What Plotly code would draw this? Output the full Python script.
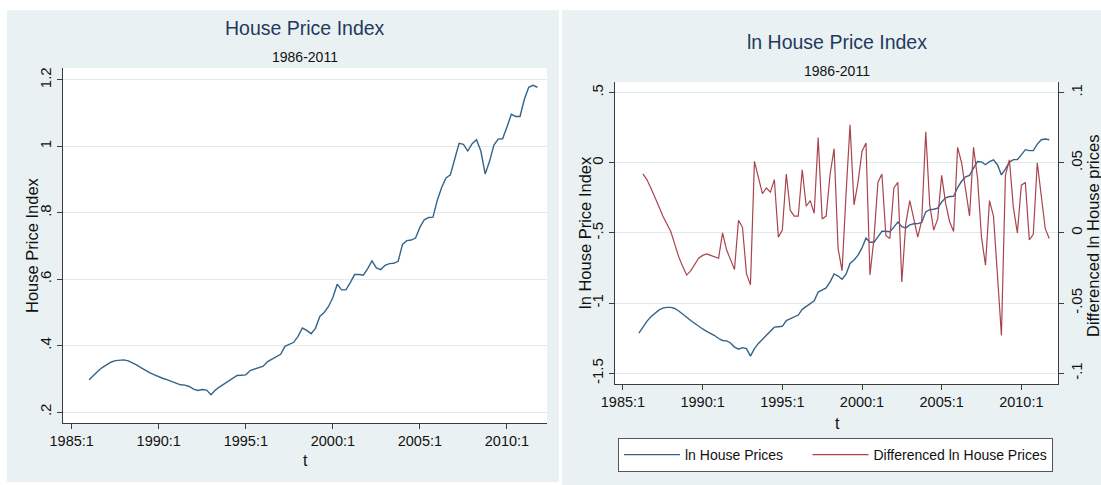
import plotly.graph_objects as go

# ---------------- data (quarterly, 1986:1 - 2011:4) ----------------
hpi = [
    0.297, 0.311, 0.323, 0.334, 0.343, 0.350, 0.355, 0.357,
    0.357, 0.354, 0.348, 0.341, 0.333, 0.325, 0.318, 0.312,
    0.306, 0.301, 0.297, 0.292, 0.286, 0.282, 0.281, 0.277,
    0.269, 0.265, 0.268, 0.266, 0.252, 0.266, 0.276, 0.284,
    0.293, 0.301, 0.310, 0.311, 0.312, 0.325, 0.330, 0.334,
    0.338, 0.352, 0.360, 0.368, 0.374, 0.398, 0.404, 0.410,
    0.428, 0.453, 0.446, 0.436, 0.452, 0.488, 0.500, 0.518,
    0.545, 0.585, 0.568, 0.568, 0.590, 0.614, 0.614, 0.612,
    0.632, 0.655, 0.634, 0.629, 0.642, 0.647, 0.648, 0.654,
    0.705, 0.716, 0.718, 0.724, 0.756, 0.779, 0.786, 0.787,
    0.838, 0.876, 0.905, 0.914, 0.962, 1.009, 1.006, 0.986,
    1.008, 1.020, 0.986, 0.917, 0.955, 1.004, 1.022, 1.023,
    1.058, 1.097, 1.090, 1.090, 1.142, 1.178, 1.184, 1.178,
]

ln_hpi = [
    -1.214, -1.168, -1.130, -1.097, -1.070, -1.050, -1.036, -1.030,
    -1.030, -1.038, -1.056, -1.076, -1.100, -1.124, -1.146, -1.165,
    -1.184, -1.201, -1.214, -1.231, -1.252, -1.266, -1.269, -1.284,
    -1.313, -1.328, -1.317, -1.324, -1.378, -1.324, -1.287, -1.259,
    -1.228, -1.201, -1.171, -1.168, -1.165, -1.124, -1.109, -1.097,
    -1.085, -1.044, -1.022, -1.000, -0.983, -0.921, -0.906, -0.892,
    -0.849, -0.792, -0.807, -0.830, -0.794, -0.717, -0.693, -0.658,
    -0.607, -0.536, -0.566, -0.566, -0.528, -0.488, -0.488, -0.491,
    -0.459, -0.423, -0.456, -0.464, -0.443, -0.435, -0.434, -0.425,
    -0.350, -0.334, -0.331, -0.323, -0.280, -0.250, -0.241, -0.240,
    -0.177, -0.132, -0.100, -0.090, -0.039, 0.009, 0.006, -0.014,
    0.008, 0.020, -0.014, -0.087, -0.046, 0.004, 0.022, 0.023,
    0.056, 0.093, 0.086, 0.086, 0.133, 0.164, 0.169, 0.164,
]

# first difference starts at 1986:2
d_ln_hpi = [
    0.042, 0.038, 0.032, 0.026, 0.019, 0.012, 0.006,
    0.001, -0.008, -0.017, -0.024, -0.030, -0.027, -0.022, -0.018,
    -0.016, -0.015, -0.016, -0.017, -0.018, 0.000, -0.012, -0.019,
    -0.026, 0.009, 0.004, -0.029, -0.037, 0.051, 0.040, 0.028,
    0.032, 0.029, 0.038, -0.003, 0.002, 0.042, 0.016, 0.012,
    0.012, 0.045, 0.019, 0.023, 0.014, 0.068, 0.010, 0.012,
    0.042, 0.060, -0.011, -0.027, 0.028, 0.077, 0.020, 0.036,
    0.058, 0.064, -0.030, -0.004, 0.036, 0.042, -0.002, -0.004,
    0.032, 0.036, -0.035, 0.007, 0.023, 0.009, -0.003, 0.009,
    0.072, 0.020, 0.002, 0.010, 0.041, 0.021, 0.008, 0.001,
    0.061, 0.050, 0.032, 0.012, 0.061, 0.039, -0.003, -0.023,
    0.023, 0.012, -0.030, -0.073, 0.041, 0.052, 0.018, 0.000,
    0.034, 0.036, -0.005, -0.001, 0.050, 0.025, 0.003, -0.004,
]

quarter_labels = [f"{1986 + i // 4}:{i % 4 + 1}" for i in range(len(hpi))]
t = [1986 + i / 4 for i in range(len(hpi))]

x_tickvals = [1985, 1990, 1995, 2000, 2005, 2010]
x_ticktext = ["1985:1", "1990:1", "1995:1", "2000:1", "2005:1", "2010:1"]
y1_tickvals = [0.2, 0.4, 0.6, 0.8, 1.0, 1.2]
y1_ticktext = [".2", ".4", ".6", ".8", "1", "1.2"]
y2_tickvals = [0.5, 0, -0.5, -1, -1.5]
y2_ticktext = [".5", "0", "-.5", "-1", "-1.5"]
y3_tickvals = [0.1, 0.05, 0, -0.05, -0.1]
y3_ticktext = [".1", ".05", "0", "-.05", "-.1"]

# ---------------- style ----------------
W, H = 1101, 485
FONT = "Liberation Sans, Arial, Helvetica, sans-serif"
PANEL_BG = "#eaf1f3"
GRID = "#e3eaed"
AXIS = "#3c3c3c"
BLUE = "#33648a"
RED = "#a8454d"
TITLE_C = "#1f3a60"
NBSP = "\u00a0"


def fx(px):
    return px / W


def fy(py):
    return 1 - py / H


fig = go.Figure()

fig.add_trace(go.Scatter(
    x=t, y=hpi, mode="lines", xaxis="x", yaxis="y",
    line=dict(color=BLUE, width=1.4), showlegend=False,
    customdata=quarter_labels, hovertemplate="%{customdata}: %{y}<extra></extra>",
))
fig.add_trace(go.Scatter(
    x=t, y=ln_hpi, mode="lines", xaxis="x2", yaxis="y2",
    name="ln House Prices" + NBSP * 5, line=dict(color=BLUE, width=1.4),
    customdata=quarter_labels, hovertemplate="%{customdata}: %{y}<extra></extra>",
))
fig.add_trace(go.Scatter(
    x=t[1:], y=d_ln_hpi, mode="lines", xaxis="x2", yaxis="y3",
    name="Differenced ln House Prices", line=dict(color=RED, width=1.2),
    customdata=quarter_labels[1:], hovertemplate="%{customdata}: %{y}<extra></extra>",
))

tickfont = dict(family=FONT, size=14.5, color="#111")
common_x = dict(
    range=[1984.5, 2012.3], tickvals=x_tickvals, ticktext=x_ticktext,
    ticks="outside", ticklen=5, tickcolor=AXIS, tickwidth=1,
    showline=True, linecolor=AXIS, linewidth=1, showgrid=False,
    zeroline=False, tickfont=tickfont, automargin=False,
)
common_y = dict(
    ticks="outside", ticklen=5, tickcolor=AXIS, tickwidth=1,
    showline=True, linecolor=AXIS, linewidth=1, zeroline=False,
    tickangle=-90, tickfont=dict(family=FONT, size=15, color="#111"),
    automargin=False,
)

fig.update_layout(
    width=W, height=H,
    margin=dict(l=0, r=0, t=0, b=0, autoexpand=False),
    paper_bgcolor="white", plot_bgcolor="white",
    font=dict(family=FONT, color="#111"),
    xaxis=dict(domain=[fx(63), fx(547)], anchor="y", **common_x),
    yaxis=dict(domain=[fy(423), fy(68)], anchor="x", range=[0.167, 1.236],
               tickvals=y1_tickvals, ticktext=y1_ticktext,
               showgrid=True, gridcolor=GRID, gridwidth=1, **common_y),
    xaxis2=dict(domain=[fx(615), fx(1058)], anchor="y2", **common_x),
    yaxis2=dict(domain=[fy(384), fy(82)], anchor="x2", range=[-1.576, 0.575],
                tickvals=y2_tickvals, ticktext=y2_ticktext,
                showgrid=True, gridcolor=GRID, gridwidth=1, **common_y),
    yaxis3=dict(overlaying="y2", anchor="x2", side="right",
                range=[-0.1076, 0.1075], tickvals=y3_tickvals, ticktext=y3_ticktext,
                showgrid=False, **common_y),
    legend=dict(
        orientation="h", xref="container", yref="container",
        x=fx(618), y=fy(438), xanchor="left", yanchor="top",
        bgcolor="white", bordercolor="#555", borderwidth=1,
        font=dict(family=FONT, size=14, color="#111"),
        itemwidth=56, tracegroupgap=0,
    ),
    hovermode="closest",
)

# panel backgrounds and white plot regions
fig.add_shape(type="rect", xref="paper", yref="paper", layer="below",
              x0=fx(7), x1=fx(559), y0=fy(482), y1=fy(10),
              fillcolor=PANEL_BG, line=dict(width=0))
fig.add_shape(type="rect", xref="paper", yref="paper", layer="below",
              x0=fx(562), x1=fx(1101), y0=fy(485), y1=fy(10),
              fillcolor=PANEL_BG, line=dict(width=0))
fig.add_shape(type="rect", xref="x domain", yref="y domain", layer="below",
              x0=0, x1=1, y0=0, y1=1, fillcolor="white", line=dict(width=0))
fig.add_shape(type="rect", xref="x2 domain", yref="y2 domain", layer="below",
              x0=0, x1=1, y0=0, y1=1, fillcolor="white", line=dict(width=0))


def ann(text, x, y, size, color="#111", angle=0):
    fig.add_annotation(text=text, x=fx(x), y=fy(y), xref="paper", yref="paper",
                       xanchor="center", yanchor="middle", showarrow=False,
                       textangle=angle, font=dict(family=FONT, size=size, color=color))


ann("House Price Index", 305, 28, 19.5, TITLE_C)
ann("1986-2011", 305, 57, 14)
ann("House Price Index", 32, 245, 16.5, angle=-90)
ann("t", 305, 460, 16)

ann("ln House Price Index", 837, 42, 19.5, TITLE_C)
ann("1986-2011", 837, 71, 14)
ann("ln House Price Index", 585, 233, 16.5, angle=-90)
ann("Differenced ln House prices", 1093, 236, 16.5, angle=-90)
ann("t", 837, 423, 16)

fig.write_html(
    "out.html",
    config={"displayModeBar": False},
    post_script="document.body.style.margin='0';document.body.style.overflow='hidden';",
)
